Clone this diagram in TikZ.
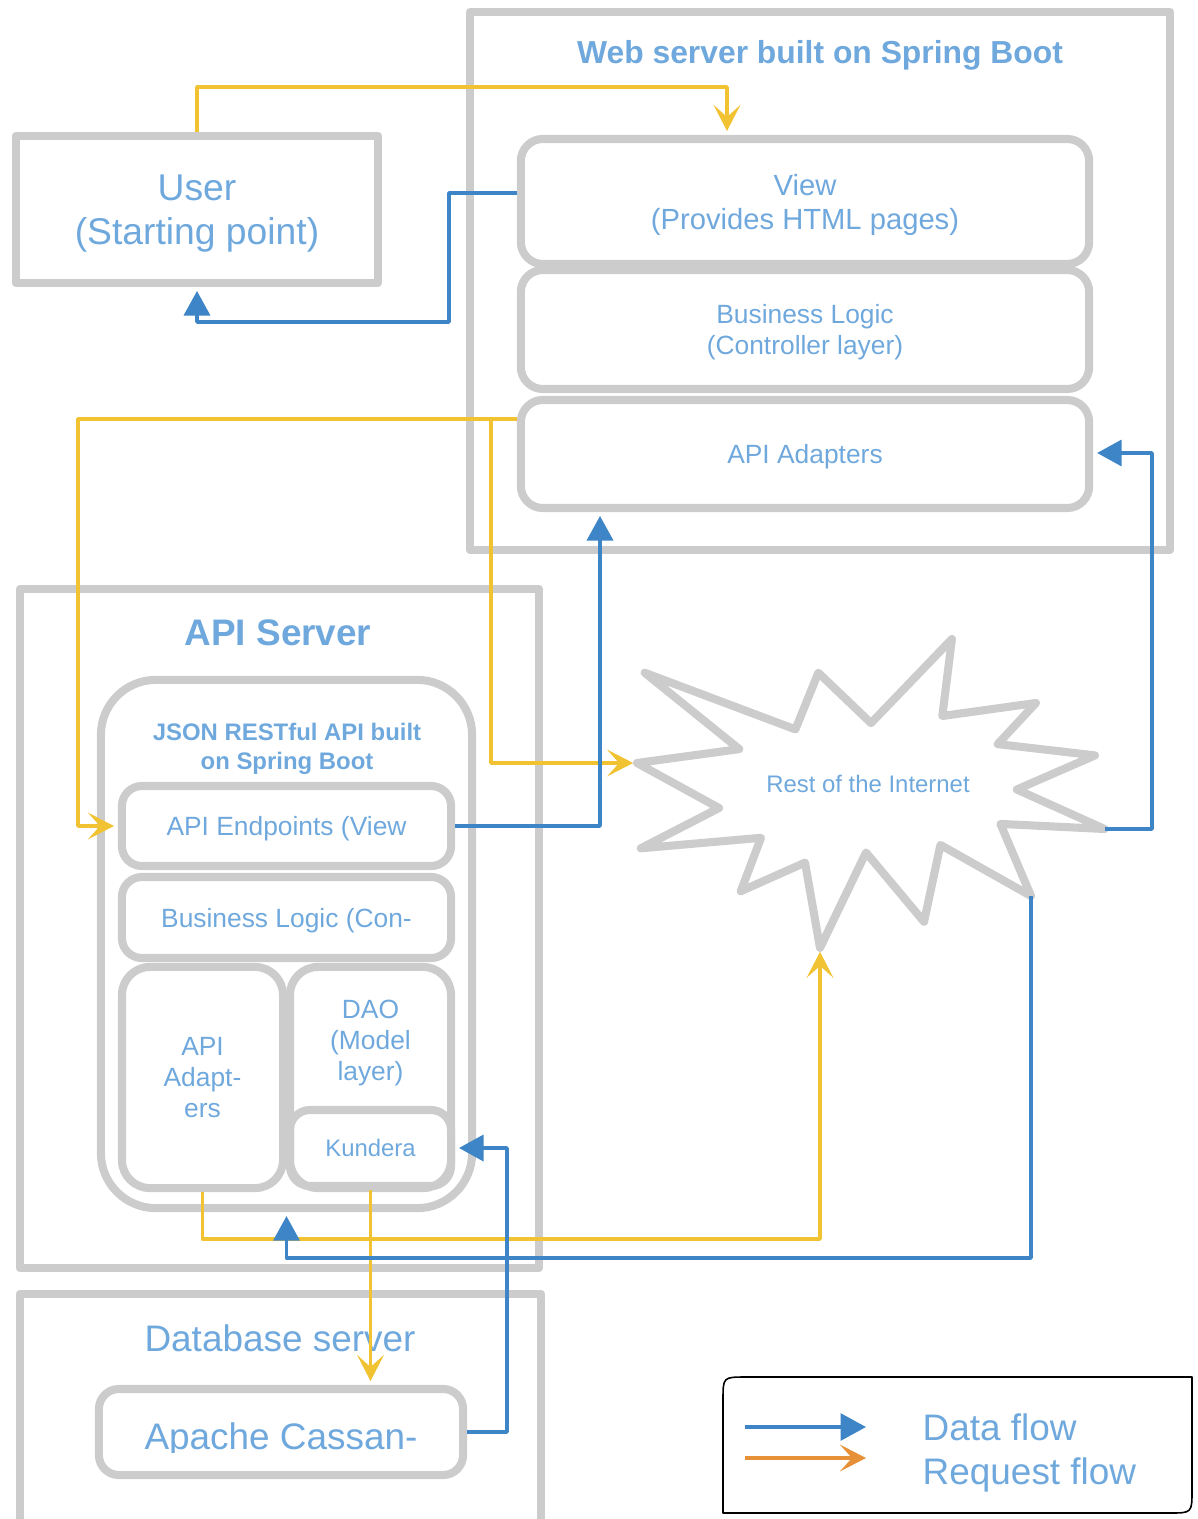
\documentclass[tikz,border=0pt]{standalone}
\usepackage{fontspec}
\setmainfont{Liberation Sans}
\usetikzlibrary{arrows.meta}
\definecolor{boxgray}{HTML}{CCCCCC}
\definecolor{txtblue}{HTML}{6FA8DC}
\definecolor{datablue}{HTML}{3D85C6}
\definecolor{reqyellow}{HTML}{F1C232}
\definecolor{reqorange}{HTML}{E69138}
\newcommand{\fsz}[2]{\fontsize{#1pt}{#2pt}\selectfont}
\begin{document}
\begin{tikzpicture}[x=0.01cm, y=-0.01cm, line join=round,
	box/.style={draw=boxgray, line width=2.3pt, text=txtblue, align=center, inner sep=0pt, text depth=0pt},
	layer/.style={box, rounded corners=0.22cm},
	title/.style={text=txtblue, align=center, inner sep=0pt, text depth=0pt},
	data/.style={color=datablue, line width=1pt, shorten >=1.1pt, -{Triangle[length=7pt,width=7.4pt]}},
	req/.style={color=reqyellow, line width=1pt, shorten >=1.1pt, -{Stealth[length=7.4pt,width=7.6pt,inset=3.4pt]}}]
	\useasboundingbox (0,0) rectangle (1197,1519);
	% web server
	\node[box, minimum width=7cm, minimum height=5.38cm] (web) at (820,281) {};
	\node[title, font=\fsz{9.05}{11}\bfseries] (webtitle) at (820,52) {Web server built on Spring Boot};
	\node[layer, minimum width=5.68cm, minimum height=1.25cm, font=\fsz{8.3}{9.7}] (view) at (805,201.5) {View\\(Provides HTML pages)};
	\node[layer, minimum width=5.68cm, minimum height=1.19cm, font=\fsz{7.5}{8.8}] (wbl) at (805,329.5) {Business Logic\\(Controller layer)};
	\node[layer, minimum width=5.68cm, minimum height=1.08cm, font=\fsz{7.5}{8.8}] (waa) at (805,454) {API Adapters};
	% user
	\node[box, minimum width=3.62cm, minimum height=1.47cm, font=\fsz{10.6}{12.5}] (user) at (197,209.5) {User\\(Starting point)};
	% api server
	\node[box, minimum width=5.19cm, minimum height=6.79cm] (api) at (279.5,928.5) {};
	\node[title, font=\fsz{10.5}{12}\bfseries] (apititle) at (278,633) {API Server};
	\node[box, rounded corners=0.55cm, minimum width=3.71cm, minimum height=5.28cm] (json) at (286.5,944) {};
	\node[title, font=\fsz{6.8}{8.3}\bfseries] (jsontitle) at (287,746) {JSON RESTful API built\\on Spring Boot};
	\node[layer, rounded corners=0.2cm, minimum width=3.29cm, minimum height=0.8cm, font=\fsz{7.5}{8.8}] (endp) at (286.5,826) {API Endpoints (View};
	\node[layer, rounded corners=0.2cm, minimum width=3.29cm, minimum height=0.81cm, font=\fsz{7.5}{8.8}] (abl) at (286.5,917.5) {Business Logic (Con-};
	\node[layer, rounded corners=0.28cm, minimum width=1.61cm, minimum height=2.21cm, font=\fsz{7.5}{8.8}] (adapt) at (202.5,1077.5) {API\\Adapt-\\ers};
	\node[layer, rounded corners=0.28cm, minimum width=1.61cm, minimum height=2.21cm] (dao) at (370.5,1077.5) {};
	\node[title, font=\fsz{7.5}{8.8}] (daotxt) at (370.5,1040) {DAO\\(Model\\layer)};
	\node[layer, rounded corners=0.2cm, minimum width=1.61cm, minimum height=0.76cm, font=\fsz{6.8}{8}] (kund) at (370.5,1148) {Kundera};
	% database server
	\node[box, minimum width=5.21cm, minimum height=2.5cm] (db) at (280.5,1419) {};
	\node[title, font=\fsz{10.5}{12}] (dbtitle) at (280,1338) {Database server};
	\node[layer, rounded corners=0.2cm, minimum width=3.64cm, minimum height=0.86cm] (cass) at (281,1432) {};
	\begin{scope}
		\clip (100,1390) rectangle (462,1452);
		\node[title, font=\fsz{10.5}{12}, anchor=base] (casstxt) at (281,1449) {Apache Cassan-};
	\end{scope}
	% rest of the internet
	\coordinate (star-w) at (637,763);
	\coordinate (star-e) at (1104.6,829);
	\coordinate (star-s) at (820,947.9);
	\coordinate (star-se) at (1031,896);
	\draw[boxgray, line width=2.3pt] (644.6,672.7) -- (795.4,729.4) -- (818.3,672.7) -- (871,723.1)
		-- (951.9,639) -- (942.3,716) -- (1035.9,703) -- (997.7,744.1) -- (1095,755.4)
		-- (1016.8,789.5) -- (star-e) -- (1000.4,823.9) -- (star-se) -- (940.4,844.9)
		-- (924,921.8) -- (866,852.5) -- (star-s) -- (805,862.6) -- (740.8,891.2)
		-- (761,837.8) -- (640.8,848.3) -- (719,808) -- (star-w) -- (739.3,749.1) -- cycle;
	\node[title, font=\fsz{6.8}{8}] (inet) at (868,784) {Rest of the Internet};
	% request flow
	\draw[req] (user.north) -- (user.north |- 0,87) -| (727,0 |- view.north);
	\coordinate (split) at (491,419);
	\draw[req] (waa.west |- split) -| (78,0 |- endp.west) -- (endp.west);
	\draw[req] (split) |- (star-w);
	\draw[req] (adapt.south) |- (star-s |- 0,1239) -- (star-s);
	\draw[req] (kund.south) -- (kund.south |- cass.north);
	% data flow
	\draw[data] (view.west |- 0,193) -| (449,322) -| (user.south);
	\draw[data] (endp.east) -| (600,0 |- waa.south);
	\draw[data] (star-e) -| (1152,453) -- (waa.east |- 0,453);
	\draw[data] (star-se) |- (json.south |- 0,1258) -- (json.south);
	\draw[data] (cass.east) -| (507,0 |- kund.east) -- (kund.east);
	% legend
	\draw[black, line width=0.45pt] (723,1513) -- (723,1400) .. controls (723,1377) .. (746,1377)
		-- (1192,1377) -- (1192,1490) .. controls (1192,1513) .. (1169,1513) -- cycle;
	\coordinate (lg-d1) at (745,1427);
	\coordinate (lg-d2) at (866,1427);
	\coordinate (lg-r1) at (745,1458);
	\coordinate (lg-r2) at (866,1458);
	\draw[data, shorten >=0pt, -{Triangle[length=7.2pt,width=7.6pt]}] (lg-d1) -- (lg-d2);
	\draw[req, color=reqorange, shorten >=0pt] (lg-r1) -- (lg-r2);
	\node[title, font=\fsz{10.5}{12}, anchor=west] (lg-data) at (922,1427) {Data flow};
	\node[title, font=\fsz{10.5}{12}, anchor=west] (lg-req) at (922,1471) {Request flow};
\end{tikzpicture}
\end{document}
